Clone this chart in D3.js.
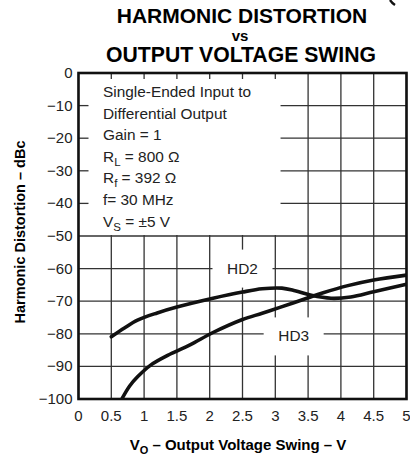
<!DOCTYPE html>
<meta charset="utf-8">
<style>
body { margin: 0; background: #fff; font-family: "Liberation Sans", Arial, Helvetica, sans-serif; }
.grid line { stroke: #333; stroke-width: 1.3px; }
.tick-label { font-size: 15px; fill: #222; }
.note { font-size: 15.4px; fill: #222; }
.curve { fill: none; stroke: #111; stroke-width: 3.6px; stroke-linecap: round; }
</style>
<body>
<script src="https://cdn.jsdelivr.net/npm/d3@7"></script>
<script>
// voltage swing (V) vs distortion (dBc)
var hd2 = [[0.5,-80.9],[0.7,-78.2],[0.9,-75.8],[1.2,-73.6],[1.5,-71.8],[2.05,-69.1],[2.5,-67.2],
           [2.8,-66.2],[3.1,-66.0],[3.3,-66.8],[3.55,-68.2],[3.85,-69.1],[4.15,-68.7],[4.5,-67.1],[5,-64.8]];
var hd3 = [[0.66,-100],[0.78,-96],[0.9,-93.2],[1.1,-89.6],[1.4,-86.2],[1.7,-83.4],[2.05,-79.6],
           [2.5,-75.6],[2.8,-73.7],[3.07,-71.9],[3.48,-69.1],[3.73,-67.4],[4.09,-65.3],[4.5,-63.5],[5,-62]];
var xTicks = [0, 0.5, 1, 1.5, 2, 2.5, 3, 3.5, 4, 4.5, 5];
var yTicks = [0, -10, -20, -30, -40, -50, -60, -70, -80, -90, -100];
var titleLines = ["HARMONIC DISTORTION", "vs", "OUTPUT VOLTAGE SWING"];
var noteBox = {x0: 0, x1: 3.08, y0: 0, y1: -50};

var width = 410, height = 455;
var x = d3.scaleLinear().domain([0, 5]).range([78.5, 406.5]);
var y = d3.scaleLinear().domain([0, -100]).range([73, 399]);

var svg = d3.select("body").append("svg")
    .attr("width", width)
    .attr("height", height);

// clipped bit of a bracket from the page header, top right
svg.append("path").attr("d", "M390,0 Q392,3 395,5")
    .attr("fill", "none").attr("stroke", "#111").attr("stroke-width", 2.4);

// title
svg.append("text").attr("x", 242).attr("y", 23).attr("text-anchor", "middle")
    .style("font-size", "21px").style("font-weight", "bold").text(titleLines[0]);
svg.append("text").attr("x", 240).attr("y", 41).attr("text-anchor", "middle")
    .style("font-size", "15px").style("font-weight", "bold").text(titleLines[1]);
svg.append("text").attr("x", 241).attr("y", 62).attr("text-anchor", "middle")
    .style("font-size", "21.2px").style("font-weight", "bold").text(titleLines[2]);

// grid
var grid = svg.append("g").attr("class", "grid");
grid.selectAll(".v").data(xTicks).enter().append("line")
    .attr("x1", function(d) { return x(d); }).attr("x2", function(d) { return x(d); })
    .attr("y1", y(0)).attr("y2", y(-100));
grid.selectAll(".h").data(yTicks).enter().append("line")
    .attr("x1", x(0)).attr("x2", x(5))
    .attr("y1", function(d) { return y(d); }).attr("y2", function(d) { return y(d); });

// white box for the conditions text
svg.append("rect")
    .attr("x", x(noteBox.x0)).attr("y", y(noteBox.y0))
    .attr("width", x(noteBox.x1) - x(noteBox.x0))
    .attr("height", y(noteBox.y1) - y(noteBox.y0) - 1)
    .attr("fill", "#fff");

// short ticks inside the box
var ticks = svg.append("g").attr("class", "grid");
ticks.selectAll("line.t").data(xTicks.filter(function(d) { return d > 0 && d < noteBox.x1; }))
  .enter().append("line")
    .attr("x1", function(d) { return x(d); }).attr("x2", function(d) { return x(d); })
    .attr("y1", y(0)).attr("y2", y(0) + 6);
ticks.selectAll("line.l").data(yTicks.filter(function(d) { return d < 0 && d > noteBox.y1; }))
  .enter().append("line")
    .attr("x1", x(0)).attr("x2", x(0) + 10)
    .attr("y1", function(d) { return y(d); }).attr("y2", function(d) { return y(d); });

// curve labels with white backing
function curveLabel(txt, v, db) {
  var g = svg.append("g");
  g.append("rect").attr("x", x(v) - 30).attr("y", y(db) - 19)
      .attr("width", 60).attr("height", 38).attr("fill", "#fff");
  g.append("text").attr("class", "note").attr("x", x(v)).attr("y", y(db) + 5)
      .attr("text-anchor", "middle").text(txt);
}
curveLabel("HD2", 2.5, -60);
curveLabel("HD3", 3.28, -80.8);

// curves
svg.append("clipPath").attr("id", "plot").append("rect")
    .attr("x", x(0)).attr("y", y(0)).attr("width", x(5) - x(0)).attr("height", y(-100) - y(0));
var line = d3.line()
    .x(function(d) { return x(d[0]); })
    .y(function(d) { return y(d[1]); })
    .curve(d3.curveCatmullRom);
[hd2, hd3].forEach(function(s) {
  svg.append("path").attr("class", "curve").attr("clip-path", "url(#plot)").attr("d", line(s));
});

// frame
svg.append("rect")
    .attr("x", x(0)).attr("y", y(0))
    .attr("width", x(5) - x(0)).attr("height", y(-100) - y(0))
    .attr("fill", "none").attr("stroke", "#111").attr("stroke-width", 2.6);

// tick labels
svg.selectAll(".xl").data(xTicks).enter().append("text")
    .attr("class", "tick-label")
    .attr("x", function(d) { return x(d); }).attr("y", 421)
    .attr("text-anchor", "middle").text(function(d) { return d; });
svg.selectAll(".yl").data(yTicks).enter().append("text")
    .attr("class", "tick-label")
    .attr("x", x(0) - 6).attr("y", function(d) { return y(d) + 5; })
    .attr("text-anchor", "end").text(function(d) { return d === 0 ? "0" : "\u2212" + (-d); });

// conditions text; {sub: ..} parts are subscripts
var notes = [
  ["Single-Ended Input to"],
  ["Differential Output"],
  ["Gain = 1"],
  ["R", {sub: "L"}, " = 800 \u03A9"],
  ["R", {sub: "f"}, " = 392 \u03A9"],
  ["f= 30 MHz"],
  ["V", {sub: "S"}, " = \u00B15 V"]
];
notes.forEach(function(parts, i) {
  var t = svg.append("text").attr("class", "note").attr("x", 103).attr("y", 97 + i * 21.6);
  var shift = 0;
  parts.forEach(function(p) {
    if (typeof p === "string") {
      t.append("tspan").attr("dy", -shift).text(p);
      shift = 0;
    } else {
      t.append("tspan").attr("dy", 4).style("font-size", "11.5px").text(p.sub);
      shift = 4;
    }
  });
});

// axis titles
var xt = svg.append("text").attr("x", 238).attr("y", 450).attr("text-anchor", "middle")
    .style("font-size", "15px").style("font-weight", "bold");
xt.append("tspan").text("V");
xt.append("tspan").attr("dy", 4).style("font-size", "11px").text("O");
xt.append("tspan").attr("dy", -4).text(" \u2013 Output Voltage Swing \u2013 V");

svg.append("text")
    .attr("transform", "translate(25,232) rotate(-90)")
    .attr("text-anchor", "middle")
    .style("font-size", "14.5px").style("font-weight", "bold")
    .text("Harmonic Distortion \u2013 dBc");
</script>
